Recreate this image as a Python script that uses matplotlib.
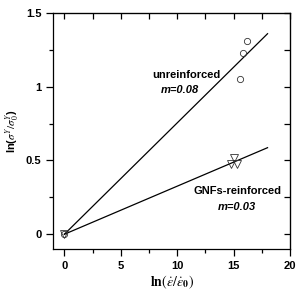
import numpy as np
import matplotlib
matplotlib.use('Agg')
from matplotlib import pyplot as plt
from matplotlib.ticker import MultipleLocator

plt.rcParams['font.family'] = ['Liberation Sans', 'DejaVu Sans']
plt.rcParams['mathtext.fontset'] = 'stix'

# data
unrein_x = [0, 15.6, 15.85, 16.15]
unrein_y = [0, 1.05, 1.23, 1.31]
gnf_x = [0, 14.75, 15.05, 15.3]
gnf_y = [0, 0.475, 0.52, 0.475]
fit_x = [0, 18]

# least squares fit through the origin
def slope(x, y):
    x = np.array(x)
    y = np.array(y)
    return (x * y).sum() / (x * x).sum()

fig = plt.figure(figsize=(3.07, 3.0), dpi=100)
ax = fig.add_axes([0.173, 0.17, 0.772, 0.787])

fx = np.array(fit_x)
ax.plot(fx, slope(unrein_x, unrein_y) * fx, c='black', lw=0.9)
ax.plot(fx, slope(gnf_x, gnf_y) * fx, c='black', lw=0.9)
ax.plot(unrein_x, unrein_y, 'o', mfc='none', mec='#333333', ms=4.5, mew=0.6)
ax.plot(gnf_x, gnf_y, 'v', mfc='none', mec='#333333', ms=6, mew=0.6)

ax.set_xlim(-1, 20)
ax.set_ylim(-0.1, 1.5)
ax.xaxis.set_major_locator(MultipleLocator(5))
ax.xaxis.set_minor_locator(MultipleLocator(2.5))
ax.yaxis.set_major_locator(MultipleLocator(0.5))
ax.yaxis.set_minor_locator(MultipleLocator(0.25))
ax.set_yticks([0, 0.5, 1, 1.5])
ax.set_yticklabels(['0', '0.5', '1', '1.5'])

ax.tick_params(which='major', direction='out', length=5, width=0.9,
               labelsize=8)
ax.tick_params(which='minor', direction='out', length=3, width=0.9)
for lab in ax.get_xticklabels() + ax.get_yticklabels():
    lab.set_fontweight('bold')
for s in ax.spines.values():
    s.set_linewidth(0.9)

# inward ticks on top and right
top = ax.secondary_xaxis('top')
top.xaxis.set_major_locator(MultipleLocator(5))
top.xaxis.set_minor_locator(MultipleLocator(2.5))
top.tick_params(which='both', direction='in', length=4, width=0.9,
                labeltop=False)
right = ax.secondary_yaxis('right')
right.yaxis.set_major_locator(MultipleLocator(0.25))
right.tick_params(which='both', direction='in', length=4, width=0.9,
                  labelright=False)

ax.set_xlabel(r'$\mathbf{ln}(\dot{\varepsilon}/\dot{\varepsilon}_\mathbf{0})$',
              fontsize=10, labelpad=2)
ax.set_ylabel(r'ln($\sigma^{Y}/\sigma_{0}^{Y}$)', fontsize=8,
              fontweight='bold', labelpad=3)

ax.text(7.8, 1.08, 'unreinforced', fontsize=8, fontweight='bold',
        va='center')
ax.text(8.5, 0.98, 'm=0.08', fontsize=8, fontweight='bold',
        style='italic', va='center')
ax.text(11.4, 0.29, 'GNFs-reinforced', fontsize=8, fontweight='bold',
        va='center')
ax.text(13.6, 0.185, 'm=0.03', fontsize=8, fontweight='bold',
        style='italic', va='center')

fig.savefig('out.png', dpi=100)
